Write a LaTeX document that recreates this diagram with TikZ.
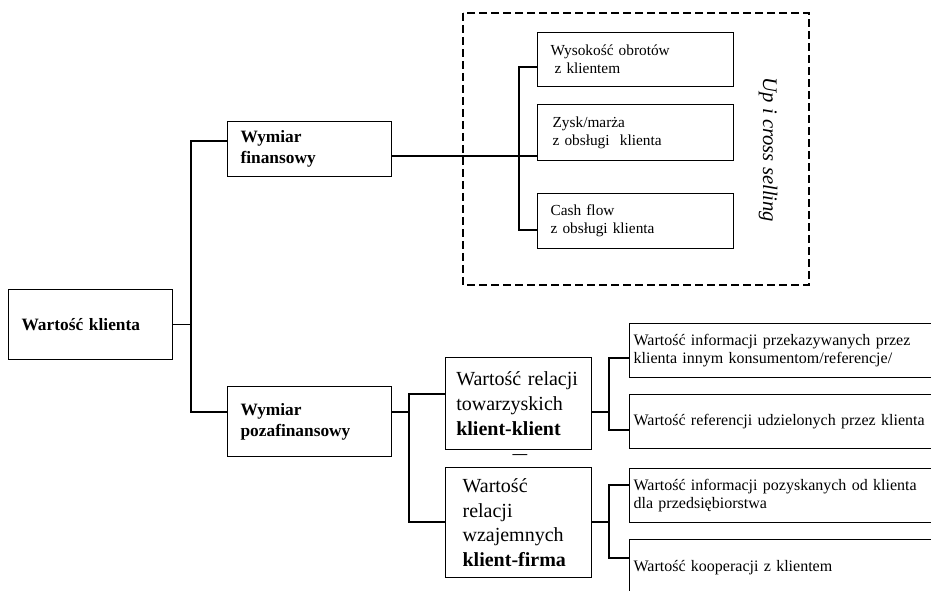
\documentclass[tikz,border=0pt]{standalone}
\usepackage{fontspec}
\setmainfont{Liberation Serif}
\tikzset{
    box/.style={draw, line width=0.9pt, rectangle, anchor=north west, align=left, inner ysep=0pt},
    head/.style={box, font=\fontsize{13}{16}\selectfont\bfseries},
    rel/.style={box, font=\fontsize{15}{18.5}\selectfont},
    item/.style={box, font=\fontsize{11.5}{13.5}\selectfont},
    leaf/.style={box, font=\fontsize{12}{14}\selectfont, text width=249pt, inner xsep=3pt},
    link/.style={line width=0.9pt},
    frame/.style={line width=2.2pt, dash pattern=on 6pt off 3pt},
}
\begin{document}
\begin{tikzpicture}[x=0.75pt, y=-0.75pt]
\useasboundingbox (0,0) rectangle (931,591);
\clip (0,0) rectangle (931,591);

% main levels
\node[head, text width=103.5pt, inner xsep=9.75pt, minimum height=52.5pt] (klient) at (8,289) {Wartość klienta};
\node[head, text width=103.5pt, inner xsep=9.75pt, minimum height=41.25pt] (fin) at (227,121) {Wymiar\\finansowy};
\node[head, text width=103.5pt, inner xsep=9.75pt, minimum height=52.5pt] (poz) at (227,386) {Wymiar\\pozafinansowy};

% financial side
\draw[frame] (463,13) rectangle (809,285);
\node[item, text width=127.5pt, inner xsep=9.75pt, minimum height=40.5pt] (obroty) at (537,32) {Wysokość obrotów\\\hspace{3pt}z klientem};
\node[item, text width=124.5pt, inner xsep=11.25pt, minimum height=42pt] (zysk) at (537,104) {Zysk/marża\\z obsługi\ \ klienta};
\node[item, text width=127.5pt, inner xsep=9.75pt, minimum height=41.25pt] (cash) at (537,193) {Cash flow\\z obsługi klienta};
\node[rotate=-90, font=\fontsize{15.5}{18}\selectfont\itshape] (upsell) at (768,150) {Up i cross selling};

% non-financial side
\node[rel, text width=93.5pt, inner xsep=8pt, minimum height=69pt] (kk) at (445,357) {Wartość relacji\\towarzyskich\\\textbf{klient-klient}};
\node[font=\fontsize{11}{13}\selectfont\bfseries] (sep) at (520,457) {—};
\node[rel, text width=84pt, inner xsep=12.75pt, minimum height=82.5pt] (kf) at (445,467) {Wartość\\relacji\\wzajemnych\\\textbf{klient-firma}};
\node[leaf, minimum height=40.5pt] (infa) at (629,323) {Wartość informacji przekazywanych przez\\klienta innym konsumentom/referencje/};
\node[leaf, minimum height=40.5pt] (infb) at (629,394) {Wartość referencji udzielonych przez klienta};
\node[leaf, minimum height=40.5pt] (infc) at (629,468) {Wartość informacji pozyskanych od klienta\\dla przedsiębiorstwa};
\node[leaf, minimum height=42pt] (infd) at (629,539) {Wartość kooperacji z klientem};

% trunk points
\coordinate (ta) at (191,141);
\coordinate (tb) at (191,412);
\coordinate (tc) at (519,156);
\coordinate (s1) at (519,67);
\coordinate (s3) at (519,230);
\coordinate (u1) at (409,394);
\coordinate (u2) at (409,522);
\coordinate (vk) at (609,412);
\coordinate (v1) at (609,358);
\coordinate (v2) at (609,430);
\coordinate (wf) at (609,522);
\coordinate (w1) at (609,485);
\coordinate (w2) at (609,558);

\draw[link] (klient.east) -- (klient.east -| ta);
\draw[link] (fin.west |- ta) -- (ta) -- (tb) -- (poz.west |- tb);
\draw[link] (fin.east |- tc) -- (tc) -- (zysk.west |- tc);
\draw[link] (obroty.west |- s1) -- (s1) -- (s3) -- (cash.west |- s3);
\draw[link] (poz.east |- tb) -- (tb -| u1);
\draw[link] (kk.west |- u1) -- (u1) -- (u2) -- (kf.west |- u2);
\draw[link] (kk.east |- vk) -- (vk);
\draw[link] (infa.west |- v1) -- (v1) -- (v2) -- (infb.west |- v2);
\draw[link] (kf.east |- wf) -- (wf);
\draw[link] (infc.west |- w1) -- (w1) -- (w2) -- (infd.west |- w2);
\end{tikzpicture}
\end{document}
